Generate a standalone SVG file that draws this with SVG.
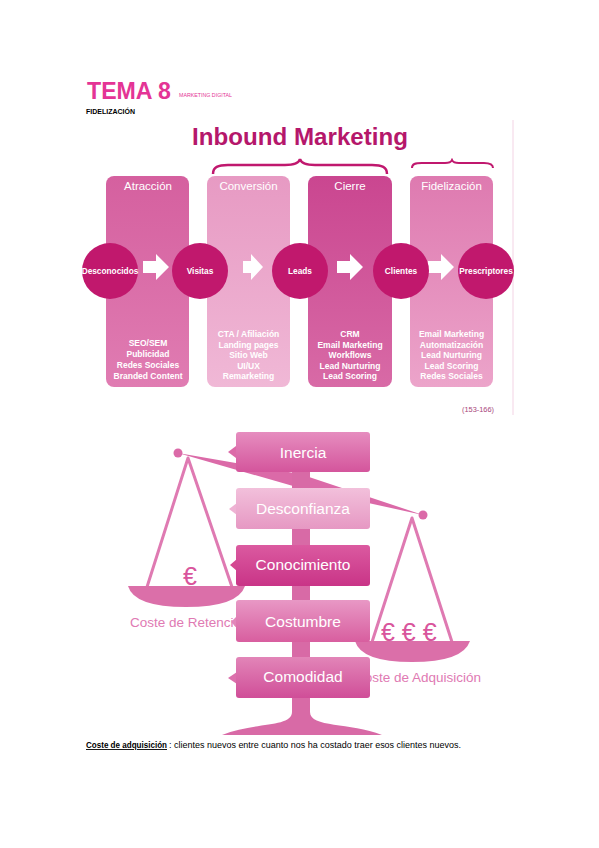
<svg xmlns="http://www.w3.org/2000/svg" width="599" height="848" viewBox="0 0 599 848">
<defs>
<style>
.hd{font-family:"Liberation Sans",Arial,sans-serif;font-size:11.5px;fill:#fff;text-anchor:middle}
.cl{font-family:"Liberation Sans",Arial,sans-serif;font-size:8.3px;font-weight:bold;fill:#fff;text-anchor:middle}
.ls{font-family:"Liberation Sans",Arial,sans-serif;font-size:8.5px;font-weight:bold;fill:#fff;text-anchor:middle}
.sg{font-family:"Liberation Sans",Arial,sans-serif;font-size:15.5px;fill:#fff;text-anchor:middle}
.cap{font-family:"Liberation Sans",Arial,sans-serif;font-size:13.5px;fill:#e07ab3}
.eu{font-family:"Liberation Sans",Arial,sans-serif;font-size:25px;fill:#d9559c}
.circ{fill:#c1186d}
.arr{fill:#ffffff}
.str{stroke:#df7ab2;stroke-width:3;fill:none;stroke-linejoin:round}
</style>
<linearGradient id="gA" x1="0" y1="0" x2="0" y2="1"><stop offset="0" stop-color="#d5609f"/><stop offset="1" stop-color="#e07cb2"/></linearGradient>
<linearGradient id="gCv" x1="0" y1="0" x2="0" y2="1"><stop offset="0" stop-color="#e79ac3"/><stop offset="1" stop-color="#f0b8d6"/></linearGradient>
<linearGradient id="gCi" x1="0" y1="0" x2="0" y2="1"><stop offset="0" stop-color="#ca4690"/><stop offset="1" stop-color="#d86aa6"/></linearGradient>
<linearGradient id="gF" x1="0" y1="0" x2="0" y2="1"><stop offset="0" stop-color="#de7ab0"/><stop offset="1" stop-color="#eca4ca"/></linearGradient>
<linearGradient id="s1" x1="0" y1="0" x2="0" y2="1"><stop offset="0" stop-color="#e68dbf"/><stop offset="1" stop-color="#d4559c"/></linearGradient>
<linearGradient id="s2" x1="0" y1="0" x2="0" y2="1"><stop offset="0" stop-color="#f2c0db"/><stop offset="1" stop-color="#e698c3"/></linearGradient>
<linearGradient id="s3" x1="0" y1="0" x2="0" y2="1"><stop offset="0" stop-color="#db5aa0"/><stop offset="1" stop-color="#c93487"/></linearGradient>
<linearGradient id="s4" x1="0" y1="0" x2="0" y2="1"><stop offset="0" stop-color="#e898c5"/><stop offset="1" stop-color="#d85e9f"/></linearGradient>
<linearGradient id="s5" x1="0" y1="0" x2="0" y2="1"><stop offset="0" stop-color="#e285b8"/><stop offset="1" stop-color="#d04e98"/></linearGradient>
</defs>
<rect width="599" height="848" fill="#ffffff"/>

<g id="header">
<text x="87" y="99" font-family="Liberation Sans,Arial,sans-serif" font-size="23" font-weight="bold" fill="#e43495" textLength="84" lengthAdjust="spacingAndGlyphs">TEMA 8</text>
<text x="179" y="97" font-family="Liberation Sans,Arial,sans-serif" font-size="5" fill="#e43495" textLength="53" lengthAdjust="spacingAndGlyphs">MARKETING DIGITAL</text>
<text x="86" y="114" font-family="Liberation Sans,Arial,sans-serif" font-size="8" font-weight="bold" fill="#000" textLength="49" lengthAdjust="spacingAndGlyphs">FIDELIZACIÓN</text>
</g>

<g id="inbound">
<line x1="513" y1="120" x2="513" y2="415" stroke="#f3d3e4" stroke-width="1"/>
<text x="192" y="145" font-family="Liberation Sans,Arial,sans-serif" font-size="24" font-weight="bold" fill="#b5176b" textLength="216" lengthAdjust="spacingAndGlyphs">Inbound Marketing</text>
<path d="M213,174 C213,167 218,165 228,165 L285,165 C295,165 299,163 300,159 C301,163 305,165 315,165 L372,165 C382,165 387,167 387,174" fill="none" stroke="#c0186e" stroke-width="2.5"/>
<path d="M412,168 C412,164 415,163 422,163 L445,163 C450,163 451,162 452,160 C453,162 454,163 459,163 L484,163 C490,163 493,164 493,168" fill="none" stroke="#c0186e" stroke-width="2"/>
</g>

<g id="col-atraccion">
<rect x="106" y="176" width="83" height="211" rx="8" fill="url(#gA)"/>
<text class="hd" x="148" y="190">Atracción</text>
<text class="ls" x="148" y="346">SEO/SEM</text>
<text class="ls" x="148" y="357">Publicidad</text>
<text class="ls" x="148" y="368">Redes Sociales</text>
<text class="ls" x="148" y="379">Branded Content</text>
</g>
<g id="col-conversion">
<rect x="207" y="176" width="83" height="211" rx="8" fill="url(#gCv)"/>
<text class="hd" x="248.5" y="190">Conversión</text>
<text class="ls" x="248.5" y="337">CTA / Afiliación</text>
<text class="ls" x="248.5" y="347.5">Landing pages</text>
<text class="ls" x="248.5" y="358">Sitio Web</text>
<text class="ls" x="248.5" y="368.5">UI/UX</text>
<text class="ls" x="248.5" y="379">Remarketing</text>
</g>
<g id="col-cierre">
<rect x="308" y="176" width="84" height="211" rx="8" fill="url(#gCi)"/>
<text class="hd" x="350" y="190">Cierre</text>
<text class="ls" x="350" y="337">CRM</text>
<text class="ls" x="350" y="347.5">Email Marketing</text>
<text class="ls" x="350" y="358">Workflows</text>
<text class="ls" x="350" y="368.5">Lead Nurturing</text>
<text class="ls" x="350" y="379">Lead Scoring</text>
</g>
<g id="col-fidelizacion">
<rect x="410" y="176" width="83" height="211" rx="8" fill="url(#gF)"/>
<text class="hd" x="451.5" y="190">Fidelización</text>
<text class="ls" x="451.5" y="337">Email Marketing</text>
<text class="ls" x="451.5" y="347.5">Automatización</text>
<text class="ls" x="451.5" y="358">Lead Nurturing</text>
<text class="ls" x="451.5" y="368.5">Lead Scoring</text>
<text class="ls" x="451.5" y="379">Redes Sociales</text>
</g>

<g id="connectors">
<path class="arr" d="M143,261 L156,261 L156,254 L169,267 L156,280 L156,273 L143,273 Z"/>
<path class="arr" d="M243,261 L251,261 L251,254 L263,267 L251,280 L251,273 L243,273 Z"/>
<path class="arr" d="M337,261 L350,261 L350,254 L363,267 L350,280 L350,273 L337,273 Z"/>
<path class="arr" d="M428,261 L441,261 L441,254 L454,267 L441,280 L441,273 L428,273 Z"/>
</g>

<g id="n-desconocidos"><circle class="circ" cx="110" cy="271" r="28"/><text class="cl" x="110" y="274">Desconocidos</text></g>
<g id="n-visitas"><circle class="circ" cx="200" cy="271" r="28"/><text class="cl" x="200" y="274">Visitas</text></g>
<g id="n-leads"><circle class="circ" cx="300" cy="271" r="28"/><text class="cl" x="300" y="274">Leads</text></g>
<g id="n-clientes"><circle class="circ" cx="401" cy="271" r="28"/><text class="cl" x="401" y="274">Clientes</text></g>
<g id="n-prescriptores"><circle class="circ" cx="486" cy="271" r="28"/><text class="cl" x="486" y="274">Prescriptores</text></g>

<text x="462" y="412" font-family="Liberation Sans,Arial,sans-serif" font-size="7.5" fill="#a8457a" textLength="32" lengthAdjust="spacingAndGlyphs">(153-166)</text>

<g id="scale">
<polygon points="178,453 300,474 423,515 300,488" fill="#db6aa8"/>
<circle cx="178" cy="453" r="4.5" fill="#db6aa8"/>
<circle cx="423" cy="515" r="4.5" fill="#db6aa8"/>
<rect x="292" y="440" width="18" height="272" fill="#d86aa6"/>
<path d="M292,705 L292,712 C292,728 252,722 222,735 L382,735 C350,722 310,728 310,712 L310,705 Z" fill="#d86aa6"/>
<path class="str" d="M147,587 L188,458 L232,587"/>
<path d="M128,586 L245,586 Q238,607 186,607 Q134,607 128,586 Z" fill="#db6fa9"/>
<path class="str" d="M372,642 L412,518 L452,642"/>
<path d="M355,641 L470,641 Q463,662 412,662 Q361,662 355,641 Z" fill="#db6fa9"/>
<text class="eu" x="183" y="585">€</text>
<text class="eu" x="381" y="641">€ € €</text>
<text class="cap" x="130" y="627">Coste de Retención</text>
<text class="cap" x="355" y="682">Coste de Adquisición</text>
</g>

<g id="s-inercia"><path d="M236,446 L228,452 L236,458 Z" fill="#dc6aa8"/><rect x="236" y="432" width="134" height="40" rx="3" fill="url(#s1)"/><text class="sg" x="303" y="458">Inercia</text></g>
<g id="s-desconfianza"><path d="M237,503 L229,509 L237,515 Z" fill="#eeb2d3"/><rect x="236" y="488" width="134" height="41" rx="3" fill="url(#s2)"/><text class="sg" x="303" y="514">Desconfianza</text></g>
<g id="s-conocimiento"><path d="M237,559 L230,565 L237,571 Z" fill="#d44890"/><rect x="236" y="545" width="134" height="41" rx="3" fill="url(#s3)"/><text class="sg" x="303" y="570">Conocimiento</text></g>
<g id="s-costumbre"><path d="M237,616 L231,622 L237,628 Z" fill="#e287ba"/><rect x="236" y="600" width="134" height="42" rx="3" fill="url(#s4)"/><text class="sg" x="303" y="627">Costumbre</text></g>
<g id="s-comodidad"><path d="M237,672 L228,678 L237,684 Z" fill="#dc70ac"/><rect x="236" y="657" width="134" height="41" rx="3" fill="url(#s5)"/><text class="sg" x="303" y="682">Comodidad</text></g>

<g id="footer">
<text x="86" y="748" font-family="Liberation Sans,Arial,sans-serif" font-size="9" font-weight="bold" fill="#000" text-decoration="underline" textLength="81" lengthAdjust="spacingAndGlyphs">Coste de adquisición</text>
<text x="169" y="748" font-family="Liberation Sans,Arial,sans-serif" font-size="9" fill="#000" textLength="292" lengthAdjust="spacingAndGlyphs">: clientes nuevos entre cuanto nos ha costado traer esos clientes nuevos.</text>
</g>
</svg>
